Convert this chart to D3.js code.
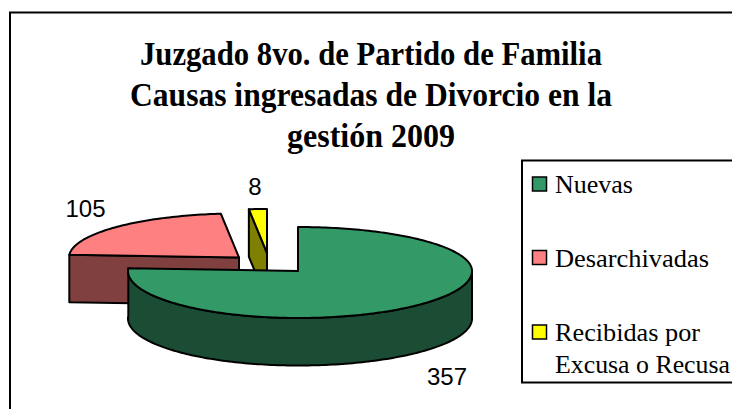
<!DOCTYPE html>
<html><head><meta charset="utf-8">
<style>html,body{margin:0;padding:0;background:#fff}svg{display:block}</style>
<script src="https://cdn.jsdelivr.net/npm/d3@7"></script></head>
<body><svg id="c" width="732" height="409"></svg>
<script>
const titleLines = ["Juzgado 8vo. de Partido de Familia","Causas ingresadas de Divorcio en la","gestión 2009"];
const titleWidths = [462,482,168];
const categories = ["Nuevas","Desarchivadas","Recibidas por Excusa o Recusa"];
const values = [357,105,8];
const topColors = ["#339966","#FF8080","#FFFF00"];
const sideColors = ["#1A4D33","#804040","#808000"];
const centers = [[298,271],[239,257.5],[267,253]];
const labelPos = [[447,385],[85.5,216.5],[255,195]];
const legendRows = [
  [{t:"Nuevas",w:78,y:193}],
  [{t:"Desarchivadas",w:154,y:267}],
  [{t:"Recibidas por",w:145,y:341},{t:"Excusa o Recusa",w:175,y:372.5}]
];
const legendKeys = [184,257.5,332];

const svg = d3.select("#c");
const depth = 47.5, rxL = 170, rxR = 174, ryT = 44, ryB = 47;
const ink = "#000", lw = 2;

svg.append("rect").attr("x",10).attr("y",12.5).attr("width",740).attr("height",420)
  .attr("fill","#fff").attr("stroke",ink).attr("stroke-width",lw);

svg.append("g").selectAll("text").data(titleLines).join("text")
  .attr("x",371).attr("y",(d,i)=>65+i*41)
  .attr("text-anchor","middle").attr("font-family","Liberation Serif")
  .attr("font-weight","bold").attr("font-size",33).attr("textLength",(d,i)=>titleWidths[i])
  .attr("lengthAdjust","spacingAndGlyphs").text(d=>d);

const arcs = d3.pie().sort(null).startAngle(0).endAngle(2*Math.PI)(values);
const P = (c,a,dy=0)=>{
  const s=Math.sin(a), k=Math.cos(a);
  return [c[0]+(s<0?rxL:rxR)*s, c[1]-(k>0?ryT:ryB)*k+dy];
};
const samples=(a0,a1)=>{const n=Math.max(2,Math.ceil((a1-a0)/0.02));return d3.range(n+1).map(i=>a0+(a1-a0)*i/n);};
const line=d3.line();
const poly=(g,pts,fill)=>g.append("path").attr("d",line(pts)+"Z").attr("fill",fill)
  .attr("stroke",ink).attr("stroke-width",lw).attr("stroke-linejoin","round");

// draw back to front: yellow, red, green
[2,1,0].forEach(i=>{
  const a=arcs[i], c=centers[i], g=svg.append("g");
  const rim=samples(a.startAngle,a.endAngle);
  if(i>0){
    const e=P(c,a.startAngle);
    poly(g,[e,c,[c[0],c[1]+depth],[e[0],e[1]+depth]],sideColors[i]);
  }
  if(i===0){
    const front=samples(Math.PI/2,a.endAngle);
    poly(g,[...front.map(t=>P(c,t)),...front.slice().reverse().map(t=>P(c,t,depth))],sideColors[i]);
  }
  poly(g,[c,...rim.map(t=>P(c,t))],topColors[i]);
});

svg.append("g").selectAll("text").data(values).join("text")
  .attr("x",(d,i)=>labelPos[i][0]).attr("y",(d,i)=>labelPos[i][1])
  .attr("text-anchor","middle").attr("font-family","Liberation Sans").attr("font-size",24)
  .attr("fill","#000").text(d=>d);

svg.append("rect").attr("x",522).attr("y",160.5).attr("width",240).attr("height",222)
  .attr("fill","#fff").attr("stroke",ink).attr("stroke-width",lw);
const lg=svg.append("g");
lg.selectAll("rect").data(categories).join("rect")
  .attr("x",532.5).attr("y",(d,i)=>legendKeys[i]-7).attr("width",14).attr("height",14)
  .attr("fill",(d,i)=>topColors[i]).attr("stroke",ink).attr("stroke-width",1.5);
legendRows.forEach(lines=>lines.forEach(r=>{
  lg.append("text").attr("x",555).attr("y",r.y).attr("font-family","Liberation Serif")
    .attr("font-size",25).attr("fill","#000").attr("textLength",r.w)
    .attr("lengthAdjust","spacingAndGlyphs").text(r.t);
}));
</script></body></html>
